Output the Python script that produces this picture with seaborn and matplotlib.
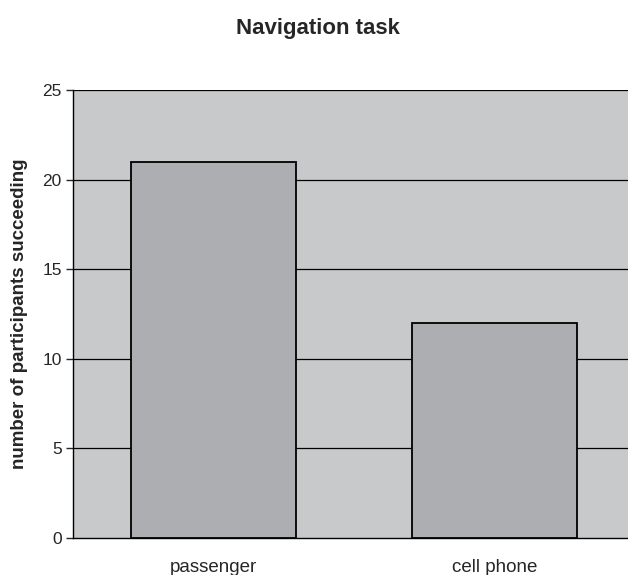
import pandas as pd
import seaborn as sns
import matplotlib.pyplot as plt

conditions = ['passenger', 'cell phone']
succeeded = [21, 12]
y_ticks = [0, 5, 10, 15, 20, 25]

data = pd.DataFrame({'condition': conditions, 'total': succeeded})

sns.set_style('white')
plt.rcParams['font.family'] = ['Liberation Sans', 'DejaVu Sans']

fig = plt.figure(figsize=(6.28, 5.75), dpi=100)
# plot area runs off the right edge like in the original excel export
ax = fig.add_axes([0.1162, 0.0643, 0.895, 0.7792])
ax.set_facecolor('#c8c9cb')

sns.barplot(data=data, x='condition', y='total', color='#adaeb1', width=0.585,
            edgecolor='black', linewidth=1.3, saturation=1, ax=ax, zorder=3)

ax.set_xlim(-0.5, 1.5)
ax.set_ylim(0, 25)
ax.set_yticks(y_ticks)
for y in y_ticks[1:]:
    ax.axhline(y, color='black', linewidth=0.9, zorder=1)

# tick marks between categories
ax.set_xticks([-0.5, 0.5, 1.5], minor=True)
ax.tick_params(axis='x', which='major', length=0, labelsize=13.5, pad=15)
ax.tick_params(axis='x', which='minor', length=5, width=1, direction='out', colors='black')
ax.tick_params(axis='y', length=5, width=1, direction='out', labelsize=12.5, left=True, pad=3)

for side in ['top', 'right']:
    ax.spines[side].set_visible(False)
for side in ['left', 'bottom']:
    ax.spines[side].set_color('black')
    ax.spines[side].set_linewidth(1)

ax.set_xlabel('')
ax.set_ylabel('number of participants succeeding', fontsize=13.5, fontweight='bold', labelpad=10)
fig.text(0.507, 0.951, 'Navigation task', fontsize=16, fontweight='bold', ha='center', va='center')

fig.savefig('out.png', dpi=100)
